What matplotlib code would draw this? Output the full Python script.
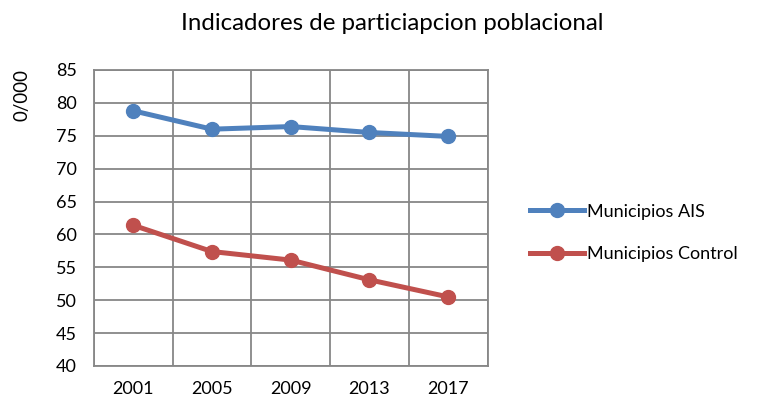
import matplotlib.pyplot as plt
import numpy as np

YEARS = ['2001', '2005', '2009', '2013', '2017']
AIS = [78.8, 76.0, 76.4, 75.5, 74.9]
CONTROL = [61.4, 57.4, 56.1, 53.1, 50.5]
Y_TICKS = [40, 45, 50, 55, 60, 65, 70, 75, 80, 85]

BLUE = '#4F81BD'
RED = '#C0504D'
GRID = '#878787'

plt.rcParams['font.family'] = ['Lato', 'DejaVu Sans']

fig = plt.figure(figsize=(7.72, 4.05), dpi=100)
ax = fig.add_axes([0.1214, 0.0963, 0.5103, 0.7309])

x = np.arange(len(YEARS))
ax.plot(x, AIS, color=BLUE, lw=3.6, marker='o', ms=10, label='Municipios AIS')
ax.plot(x, CONTROL, color=RED, lw=3.6, marker='o', ms=10, label='Municipios Control')

ax.set_xlim(-0.5, len(YEARS) - 0.5)
ax.set_ylim(40, 85)
ax.set_yticks(Y_TICKS)
ax.set_xticks(x)
ax.set_xticklabels(YEARS)
ax.set_xticks(np.arange(len(YEARS) + 1) - 0.5, minor=True)
ax.tick_params(which='both', length=0, labelsize=13)
ax.tick_params(axis='y', pad=12)
ax.tick_params(axis='x', pad=11)
ax.grid(True, axis='y', which='major', color=GRID, lw=1.3)
ax.grid(True, axis='x', which='minor', color=GRID, lw=1.3)
ax.set_axisbelow(True)
for s in ax.spines.values():
    s.set_color(GRID)
    s.set_linewidth(1.3)

fig.text(0.508, 0.943, 'Indicadores de particiapcion poblacional', ha='center', va='center', fontsize=17.3)
fig.text(0.028, 0.83, '0/000', rotation=90, ha='center', va='top', fontsize=13.5)

ax.legend(loc='center left', bbox_to_anchor=(1.065, 0.45), frameon=False, fontsize=13,
          handlelength=3.0, handletextpad=0.2, labelspacing=1.45)

fig.savefig('out.png', dpi=100)
